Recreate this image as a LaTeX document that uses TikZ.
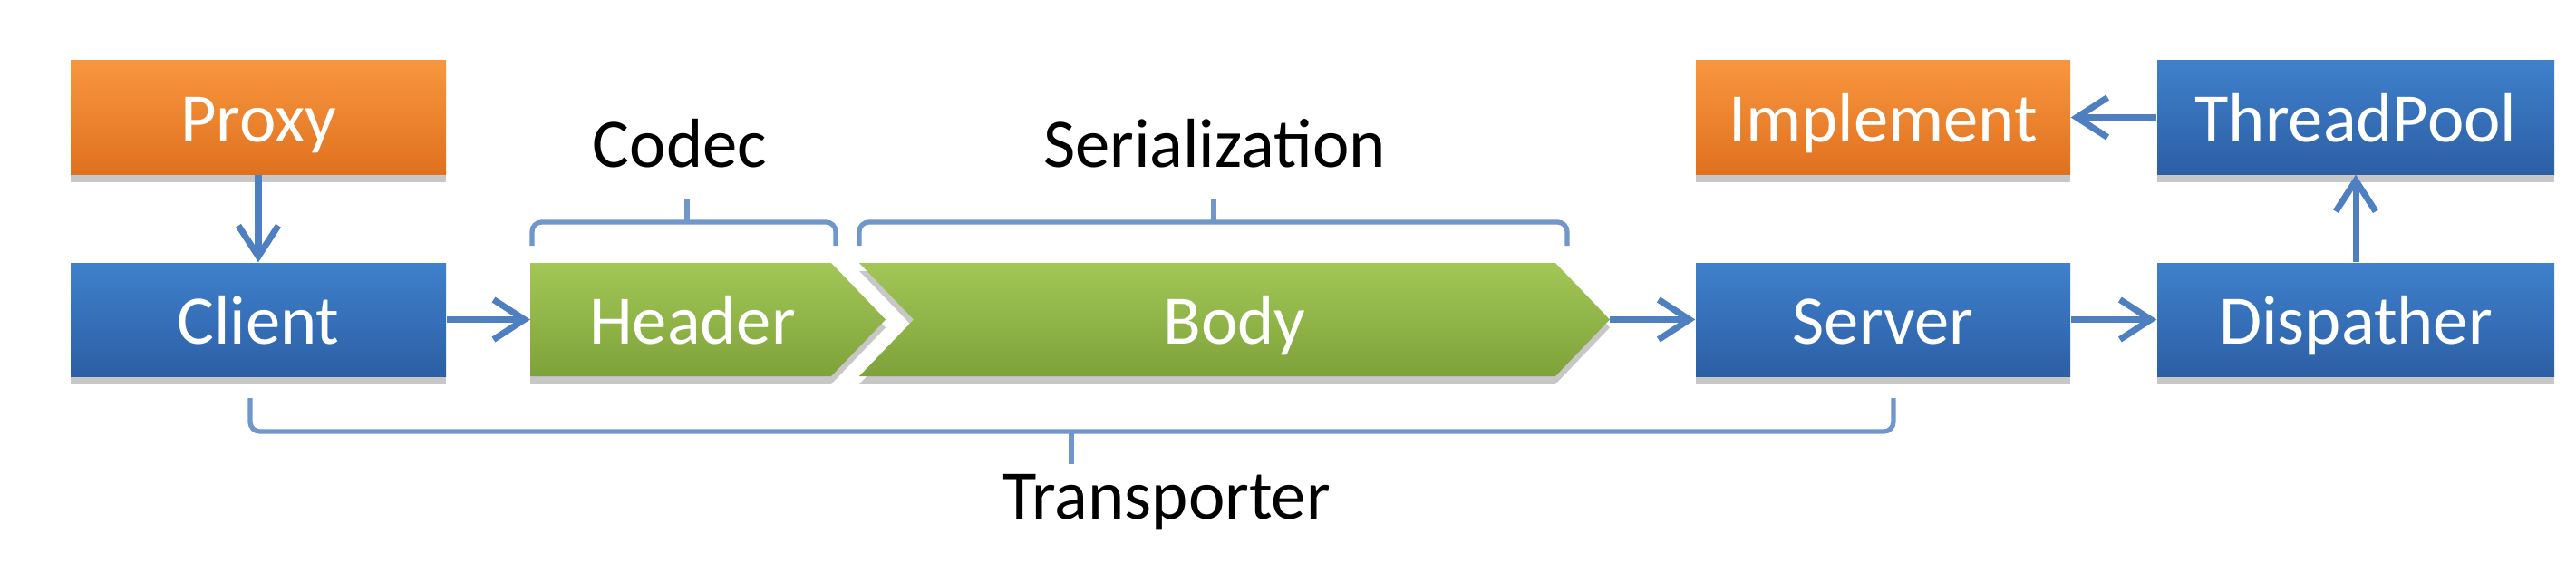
\documentclass[tikz,border=0pt]{standalone}
\usepackage{fontspec}
\setmainfont{Carlito}
\usepackage{tikz}
\usetikzlibrary{arrows.meta,shadows}

\definecolor{laranjaA}{HTML}{F8963E}
\definecolor{laranjaB}{HTML}{E0711F}
\definecolor{azulA}{HTML}{3F80CC}
\definecolor{azulB}{HTML}{2C5FA4}
\definecolor{verdeA}{HTML}{A2C756}
\definecolor{verdeB}{HTML}{7EA23A}
\definecolor{corSeta}{HTML}{4E7FC0}
\definecolor{corChave}{HTML}{6F97CC}

\begin{document}
\begin{tikzpicture}[>={Straight Barb[length=3.4mm,width=4.4mm]},
    font=\fontsize{21.8}{26}\selectfont,
    sombra/.style={drop shadow={shadow xshift=0pt, shadow yshift=-2.5pt, opacity=0.22, fill=black}},
    texto/.style={text=white, text height=0.54cm, text depth=0pt, inner sep=0pt},
    caixa/.style={texto, minimum height=1.25cm, sombra},
    azul/.style={caixa, top color=azulA, bottom color=azulB},
    laranja/.style={caixa, top color=laranjaA, bottom color=laranjaB},
    seta/.style={->, line width=2pt, draw=corSeta},
    chave/.style={line width=1.5pt, draw=corChave, rounded corners=3pt},
    divisa/.style={top color=verdeA, bottom color=verdeB, sombra}]
    \useasboundingbox (0,0) rectangle (28.42,6.20);

    % Caixas
    \node[laranja, minimum width=4.14cm] (proxy) at (2.85,4.905) {Proxy};
    \node[azul, minimum width=4.14cm] (client) at (2.85,2.675) {Client};
    \node[laranja, minimum width=4.13cm] (implement) at (20.775,4.905) {Implement};
    \node[azul, minimum width=4.13cm] (server) at (20.775,2.675) {Server};
    \node[azul, minimum width=4.38cm] (threadpool) at (25.99,4.905) {ThreadPool};
    \node[azul, minimum width=4.38cm] (dispatcher) at (25.99,2.675) {Dispather};

    % Header e Body
    \path[divisa] (5.85,3.30) -- (9.17,3.30) -- (9.77,2.675) -- (9.17,2.05) -- (5.85,2.05) -- cycle;
    \path[divisa] (9.48,3.30) -- (17.16,3.30) -- (17.76,2.675) -- (17.16,2.05) -- (9.48,2.05) -- (10.08,2.675) -- cycle;
    \node[texto] (header) at (7.64,2.675) {Header};
    \node[texto] (body) at (13.62,2.675) {Body};
    \coordinate (header-w) at (5.85,2.675);
    \coordinate (body-e) at (17.76,2.675);

    % Setas
    \draw[seta] (proxy) -- (client);
    \draw[seta] (client) -- (header-w);
    \draw[seta] (body-e) -- (server);
    \draw[seta] (server) -- (dispatcher);
    \draw[seta] (dispatcher) -- (threadpool);
    \draw[seta] (threadpool) -- (implement);

    % Chaves
    \draw[chave] (5.87,3.49) -- (5.87,3.75) -- (9.22,3.75) -- (9.22,3.49);
    \draw[chave] (7.58,3.75) -- (7.58,4.01);
    \draw[chave] (9.48,3.49) -- (9.48,3.75) -- (17.29,3.75) -- (17.29,3.49);
    \draw[chave] (13.39,3.75) -- (13.39,4.01);
    \draw[chave] (2.76,1.81) -- (2.76,1.44) -- (20.89,1.44) -- (20.89,1.81);
    \draw[chave] (11.82,1.44) -- (11.82,1.08);

    % Rotulos
    \node[anchor=base] (codec) at (7.50,4.36) {Codec};
    \node[anchor=base] (serial) at (13.40,4.36) {Serialization};
    \node[anchor=base] (transporter) at (12.87,0.48) {Transporter};
\end{tikzpicture}
\end{document}
